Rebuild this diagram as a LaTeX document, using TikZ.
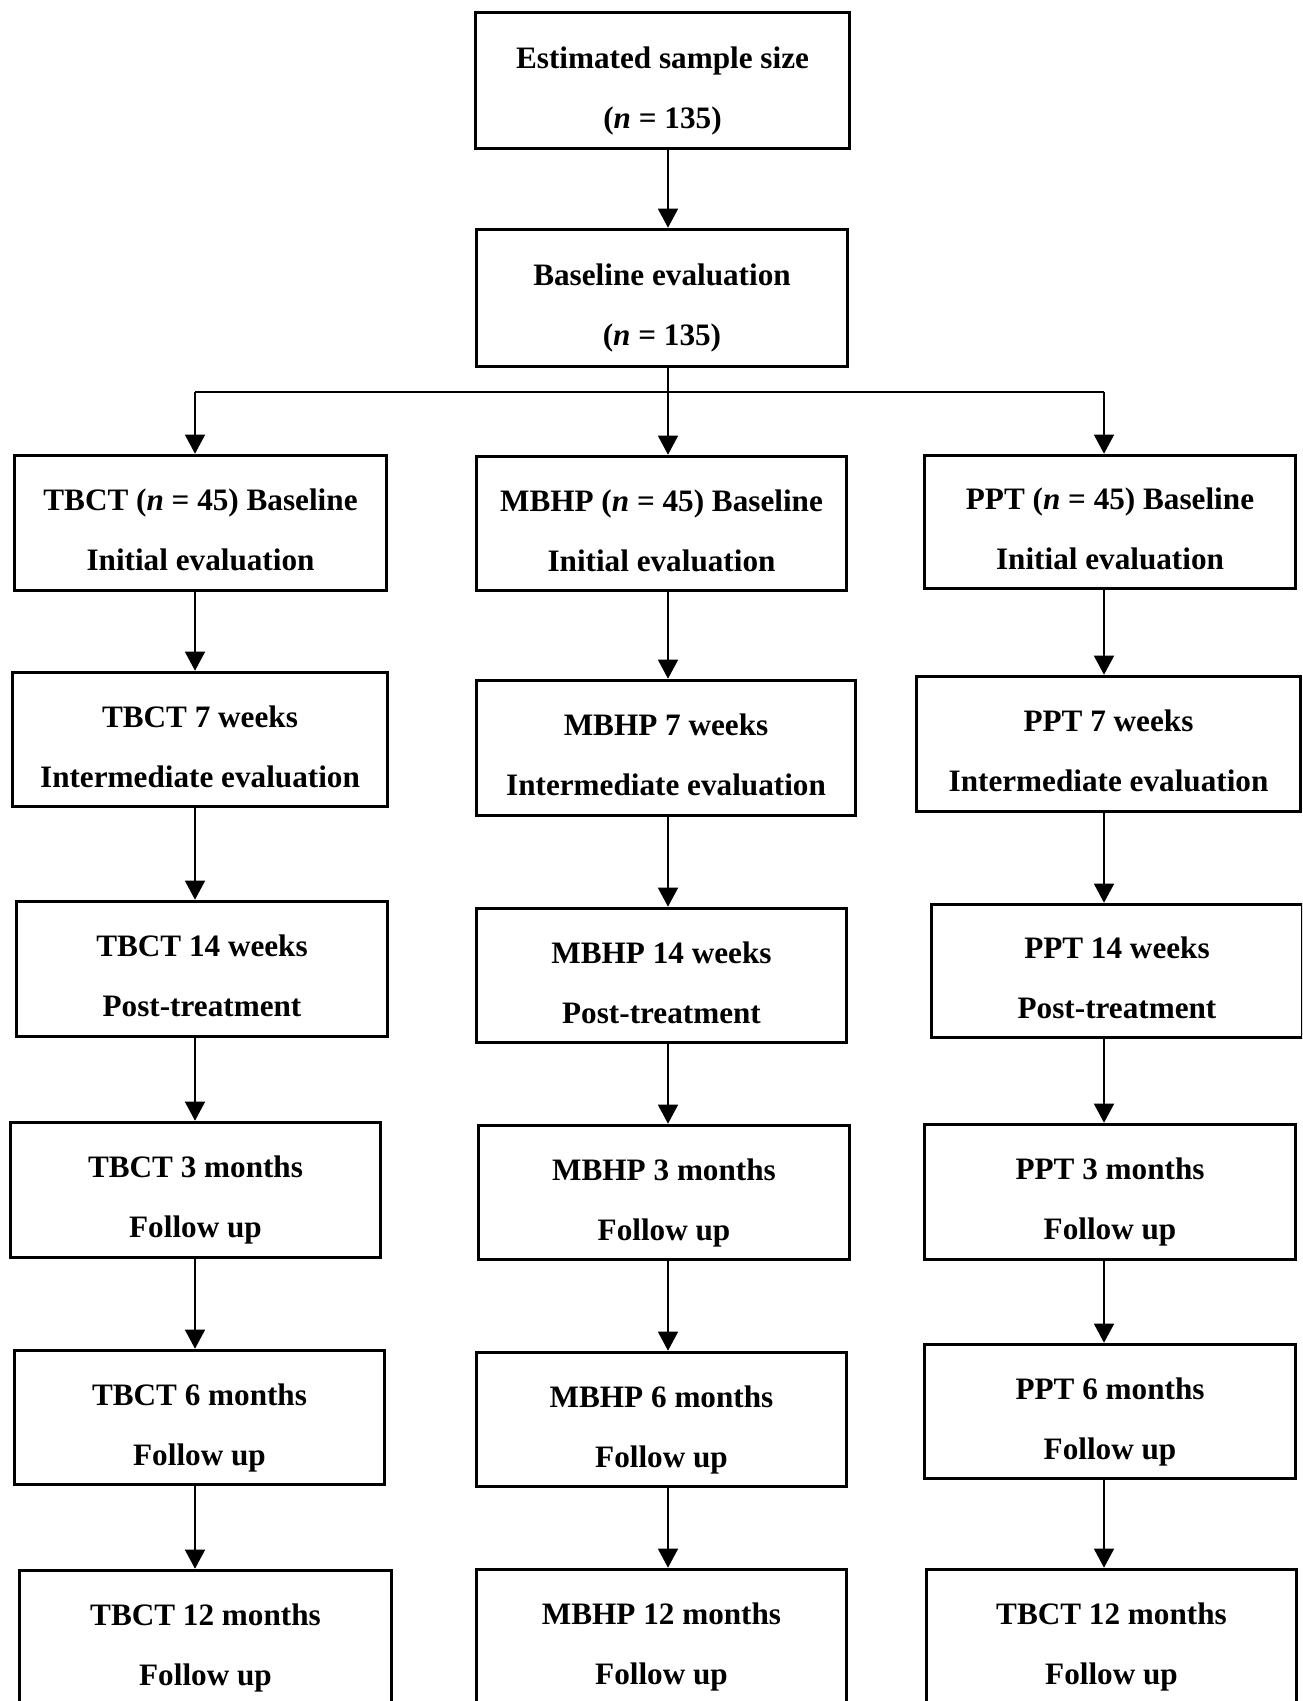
\documentclass[tikz,border=0pt]{standalone}
\usepackage{fontspec}
\setmainfont{Liberation Serif}
\usetikzlibrary{arrows.meta}
\newcommand\mybox[6]{\node[stepbox,minimum width={(#4-#2-3)*0.5pt},minimum height={(#5-#3-3)*0.5pt}] (#1) at ({(#2+#4)/2},{(#3+#5)/2}) {\raisebox{-6.4pt}[0pt][0pt]{\begin{tabular}{@{}c@{}}#6\end{tabular}}};}
\begin{document}
\begin{tikzpicture}[x=0.5pt,y=-0.5pt,
  stepbox/.style={draw, line width=1.8pt, inner sep=0pt, font=\fontsize{15.6}{30}\selectfont\bfseries},
  arr/.style={-{Triangle[width=10pt,length=9.5pt]}, line width=0.7pt}]
\useasboundingbox (0,0) rectangle (1302,1701);
\clip (0,0) rectangle (1302,1701);
\fill[white] (0,0) rectangle (1302,1701);
% top
\mybox{top}{474}{11}{851}{150}{Estimated sample size\\(\textit{n} = 135)}
\mybox{base}{475}{228}{849}{368}{Baseline evaluation\\(\textit{n} = 135)}
% row 1
\mybox{L1}{13}{454}{388}{592}{TBCT (\textit{n} = 45) Baseline\\Initial evaluation}
\mybox{M1}{475}{455}{848}{592}{MBHP (\textit{n} = 45) Baseline\\Initial evaluation}
\mybox{R1}{923}{454}{1297}{590}{PPT (\textit{n} = 45) Baseline\\Initial evaluation}
% row 2
\mybox{L2}{11}{671}{389}{808}{TBCT 7 weeks\\Intermediate evaluation}
\mybox{M2}{475}{679}{857}{817}{MBHP 7 weeks\\Intermediate evaluation}
\mybox{R2}{915}{675}{1302}{813}{PPT 7 weeks\\Intermediate evaluation}
% row 3
\mybox{L3}{15}{900}{389}{1038}{TBCT 14 weeks\\Post-treatment}
\mybox{M3}{475}{907}{848}{1044}{MBHP 14 weeks\\Post-treatment}
\mybox{R3}{930}{903}{1304}{1039}{PPT 14 weeks\\Post-treatment}
% row 4
\mybox{L4}{9}{1121}{382}{1259}{TBCT 3 months\\Follow up}
\mybox{M4}{477}{1124}{851}{1261}{MBHP 3 months\\Follow up}
\mybox{R4}{923}{1123}{1297}{1261}{PPT 3 months\\Follow up}
% row 5
\mybox{L5}{13}{1349}{386}{1486}{TBCT 6 months\\Follow up}
\mybox{M5}{475}{1351}{848}{1488}{MBHP 6 months\\Follow up}
\mybox{R5}{923}{1343}{1297}{1480}{PPT 6 months\\Follow up}
% row 6
\mybox{L6}{18}{1569}{393}{1707}{TBCT 12 months\\Follow up}
\mybox{M6}{475}{1568}{848}{1706}{MBHP 12 months\\Follow up}
\mybox{R6}{925}{1568}{1298}{1706}{TBCT 12 months\\Follow up}
% connector columns
\coordinate (xL) at (195,0);
\coordinate (xM) at (668,0);
\coordinate (xR) at (1104,0);
\coordinate (split) at (668,392);
% connectors
\draw[arr] (top.south -| xM) -- (base.north -| xM);
\draw[line width=0.7pt] (split -| xL) -- (split -| xR);
\draw[arr] (base.south -| xM) -- (M1.north -| xM);
\draw[arr] (split -| xL) -- (L1.north -| xL);
\draw[arr] (split -| xR) -- (R1.north -| xR);
\foreach \c in {L,M,R}{
  \foreach \i/\j in {1/2,2/3,3/4,4/5,5/6}{
    \draw[arr] (\c\i.south -| x\c) -- (\c\j.north -| x\c);
  }
}
\end{tikzpicture}
\end{document}
